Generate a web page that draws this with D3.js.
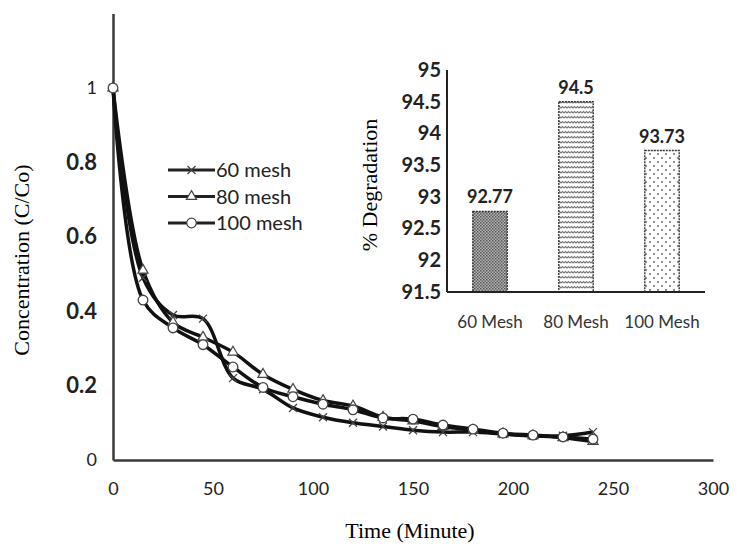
<!DOCTYPE html>
<html>
<head>
<meta charset="utf-8">
<script src="https://cdn.jsdelivr.net/npm/d3@7"></script>
<style>
  body { margin: 0; background: #fff; }
  svg { display: block; }
</style>
</head>
<body>
<svg id="chart" width="737" height="547"></svg>
<script>
// time points (minutes)
var times = [0, 15, 30, 45, 60, 75, 90, 105, 120, 135, 150, 165, 180, 195, 210, 225, 240];
var mesh60 = [1, 0.49, 0.39, 0.38, 0.22, 0.19, 0.14, 0.115, 0.10, 0.09, 0.08, 0.075, 0.075, 0.07, 0.065, 0.065, 0.075];
var mesh80 = [1, 0.51, 0.37, 0.33, 0.29, 0.23, 0.19, 0.16, 0.145, 0.115, 0.105, 0.09, 0.08, 0.07, 0.065, 0.06, 0.05];
var mesh100 = [1, 0.43, 0.355, 0.31, 0.25, 0.195, 0.17, 0.15, 0.135, 0.113, 0.11, 0.094, 0.083, 0.072, 0.067, 0.062, 0.056];
var seriesNames = ["60 mesh", "80 mesh", "100 mesh"];
var xTicks = [0, 50, 100, 150, 200, 250, 300];
var yTicks = [0, 0.2, 0.4, 0.6, 0.8, 1];

// inset bar chart
var barCats = ["60 Mesh", "80 Mesh", "100 Mesh"];
var barVals = [92.77, 94.5, 93.73];
var barTicks = [91.5, 92, 92.5, 93, 93.5, 94, 94.5, 95];

var svg = d3.select('#chart');
var labelFont = "Lato, 'Open Sans', sans-serif";
var serifFont = "'Liberation Serif', 'DejaVu Serif', serif";

// patterns for the bars
var defs = svg.append('defs');
var p1 = defs.append('pattern').attr('id', 'pat1').attr('patternUnits', 'userSpaceOnUse')
    .attr('width', 3).attr('height', 3);
p1.append('rect').attr('width', 3).attr('height', 3).attr('fill', '#b4b4b4');
p1.append('rect').attr('width', 1.5).attr('height', 1.5).attr('fill', '#555');
p1.append('rect').attr('x', 1.5).attr('y', 1.5).attr('width', 1.5).attr('height', 1.5).attr('fill', '#666');

var p2 = defs.append('pattern').attr('id', 'pat2').attr('patternUnits', 'userSpaceOnUse')
    .attr('width', 6).attr('height', 5);
p2.append('rect').attr('width', 6).attr('height', 5).attr('fill', '#fff');
p2.append('path').attr('d', 'M0,3 L1.5,1.5 L3,3 L4.5,1.5 L6,3')
    .attr('fill', 'none').attr('stroke', '#777').attr('stroke-width', 1.1);

var p3 = defs.append('pattern').attr('id', 'pat3').attr('patternUnits', 'userSpaceOnUse')
    .attr('width', 8).attr('height', 8);
p3.append('rect').attr('width', 8).attr('height', 8).attr('fill', '#fff');
p3.append('circle').attr('cx', 2).attr('cy', 2).attr('r', 1.1).attr('fill', '#777');
p3.append('circle').attr('cx', 6).attr('cy', 6).attr('r', 1.1).attr('fill', '#777');
var patterns = ['url(#pat1)', 'url(#pat2)', 'url(#pat3)'];

// ---- main chart ----
var xScale = d3.scaleLinear().domain([0, 300]).range([113, 713]);
var yScale = d3.scaleLinear().domain([0, 1.2]).range([460, 13.6]);

var xAxis = svg.append('g')
    .attr('transform', 'translate(0,' + yScale(0) + ')')
    .call(d3.axisBottom(xScale).tickValues(xTicks).tickSize(0).tickPadding(22));
var yAxis = svg.append('g')
    .attr('transform', 'translate(' + xScale(0) + ',0)')
    .call(d3.axisLeft(yScale).tickValues(yTicks).tickSize(0).tickPadding(16).tickFormat(String));

[xAxis, yAxis].forEach(function(ax) {
    ax.select('.domain').attr('stroke', '#3a3a3a').attr('stroke-width', 2.5);
    ax.selectAll('text').attr('font-family', labelFont).attr('fill', '#222');
});
xAxis.selectAll('text').attr('font-size', 18);
yAxis.selectAll('text')
    .attr('font-size', function(d) { return (d == 0 || d == 1) ? 18 : 22; })
    .attr('font-weight', function(d) { return (d == 0 || d == 1) ? 400 : 700; });

svg.append('text')
    .attr('x', 410).attr('y', 538)
    .attr('text-anchor', 'middle')
    .attr('font-family', serifFont).attr('font-size', 22)
    .text('Time (Minute)');
svg.append('text')
    .attr('transform', 'translate(24,260) rotate(-90)')
    .attr('text-anchor', 'middle')
    .attr('dominant-baseline', 'middle')
    .attr('font-family', serifFont).attr('font-size', 22)
    .text('Concentration (C/Co)');

var allSeries = [mesh60, mesh80, mesh100];
var line = d3.line()
    .x(function(d, i) { return xScale(times[i]); })
    .y(function(d) { return yScale(d); })
    .curve(d3.curveCatmullRom);

allSeries.forEach(function(s) {
    svg.append('path')
        .attr('d', line(s))
        .attr('fill', 'none')
        .attr('stroke', '#111')
        .attr('stroke-width', 3.5);
});

function drawMarker(g, k) {
    if (k == 0) {
        g.append('path').attr('d', 'M-4,-4L4,4M-4,4L4,-4')
            .attr('stroke', '#444').attr('stroke-width', 1.3).attr('fill', 'none');
    } else if (k == 1) {
        g.append('path').attr('d', d3.symbol().type(d3.symbolTriangle).size(45)())
            .attr('fill', '#fff').attr('stroke', '#444').attr('stroke-width', 1.2);
    } else {
        g.append('circle').attr('r', 4.8)
            .attr('fill', '#fff').attr('stroke', '#444').attr('stroke-width', 1.3);
    }
}

allSeries.forEach(function(s, k) {
    s.forEach(function(v, i) {
        var g = svg.append('g')
            .attr('transform', 'translate(' + xScale(times[i]) + ',' + yScale(v) + ')');
        drawMarker(g, k);
    });
});

// legend
seriesNames.forEach(function(name, k) {
    var ly = 170 + k * 26.5;
    var lg = svg.append('g').attr('transform', 'translate(168,' + ly + ')');
    lg.append('line').attr('x1', 0).attr('x2', 47).attr('y1', 0).attr('y2', 0)
        .attr('stroke', '#222').attr('stroke-width', 3);
    var mg = lg.append('g').attr('transform', 'translate(23.5,0)');
    drawMarker(mg, k);
    lg.append('text').attr('x', 48).attr('y', 0).attr('dy', '0.35em')
        .attr('font-family', labelFont).attr('font-size', 20).attr('fill', '#222')
        .text(name);
});

// ---- inset bar chart ----
var xb = d3.scaleBand().domain(barCats).range([447, 705]).paddingInner(0.6).paddingOuter(0.3);
var yb = d3.scaleLinear().domain([91.5, 95]).range([292, 70]);

svg.selectAll('.bar')
    .data(barVals)
    .enter()
    .append('rect')
    .attr('class', 'bar')
    .attr('x', function(d, i) { return xb(barCats[i]); })
    .attr('y', function(d) { return yb(d); })
    .attr('width', xb.bandwidth())
    .attr('height', function(d) { return yb(91.5) - yb(d); })
    .attr('fill', function(d, i) { return patterns[i]; })
    .attr('stroke', '#333')
    .attr('stroke-width', 1.4)
    .attr('stroke-dasharray', '2,1');

svg.selectAll('.barlabel')
    .data(barVals)
    .enter()
    .append('text')
    .attr('class', 'barlabel')
    .attr('x', function(d, i) { return xb(barCats[i]) + xb.bandwidth() / 2; })
    .attr('y', function(d) { return yb(d) - 8; })
    .attr('text-anchor', 'middle')
    .attr('font-family', labelFont).attr('font-size', 18).attr('font-weight', 700)
    .attr('fill', '#222')
    .text(function(d) { return String(d); });

var ybAxis = svg.append('g')
    .attr('transform', 'translate(447,0)')
    .call(d3.axisLeft(yb).tickValues(barTicks).tickSize(0).tickPadding(6).tickFormat(String));
var xbAxis = svg.append('g')
    .attr('transform', 'translate(0,292)')
    .call(d3.axisBottom(xb).tickSize(0).tickPadding(24));
[ybAxis, xbAxis].forEach(function(ax) {
    ax.select('.domain').attr('stroke', '#222').attr('stroke-width', 2);
    ax.selectAll('text').attr('font-family', labelFont).attr('fill', '#222');
});
ybAxis.selectAll('text').attr('font-size', 20).attr('font-weight', 700);
xbAxis.selectAll('text').attr('font-size', 17).attr('fill', '#333');
ybAxis.select('.domain').attr('d', 'M0,' + yb(95) + 'V' + yb(91.5));
xbAxis.select('.domain').attr('d', 'M447,0H705');

svg.append('text')
    .attr('transform', 'translate(372,185) rotate(-90)')
    .attr('text-anchor', 'middle')
    .attr('dominant-baseline', 'middle')
    .attr('font-family', serifFont).attr('font-size', 22)
    .text('% Degradation');
</script>
</body>
</html>
